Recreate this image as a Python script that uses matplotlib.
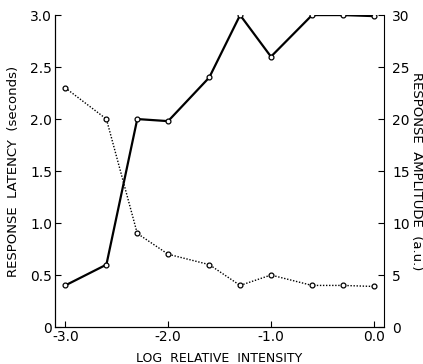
import matplotlib.pyplot as plt
import numpy as np

# log relative intensity
intensity = [-3.0, -2.6, -2.3, -2.0, -1.6, -1.3, -1.0, -0.6, -0.3, 0.0]
# response latency in seconds (dotted, left axis)
latency = [2.3, 2.0, 0.9, 0.7, 0.6, 0.4, 0.5, 0.4, 0.4, 0.39]
# response amplitude in a.u. (solid, right axis)
amplitude = [4, 6, 20, 19.8, 24, 30, 26, 30, 30, 29.9]

xticks = [-3.0, -2.0, -1.0, 0.0]
xticklabels = ['-3.0', '-2.0', '-1.0', '0.0']
lticks = [0, 0.5, 1.0, 1.5, 2.0, 2.5, 3.0]
lticklabels = ['0', '0.5', '1.0', '1.5', '2.0', '2.5', '3.0']
rticks = [0, 5, 10, 15, 20, 25, 30]

plt.rcParams['font.family'] = 'DejaVu Sans'
fig = plt.figure(figsize=(4.23, 3.64), dpi=100)
a = fig.add_axes([0.130, 0.1016, 0.778, 0.857])
b = a.twinx()

a.plot(intensity, latency, color='black', linestyle=(0, (1, 1.2)), linewidth=1.0,
       marker='o', markersize=3.5, markerfacecolor='white', markeredgewidth=0.9)
b.plot(intensity, amplitude, color='black', linestyle='-', linewidth=1.6,
       marker='o', markersize=3.5, markerfacecolor='white', markeredgewidth=0.9)

a.set_xlim(-3.1, 0.1)
a.set_ylim(0, 3.0)
b.set_ylim(0, 30)

for ax in (a, b):
    ax.spines['top'].set_visible(False)
a.spines['right'].set_visible(False)

a.set_xticks(xticks)
a.set_xticklabels(xticklabels)
a.set_yticks(lticks)
a.set_yticklabels(lticklabels)
b.set_yticks(rticks)
a.tick_params(direction='in', length=4, width=0.8, labelsize=10, pad=2)
b.tick_params(direction='in', length=4, width=0.8, labelsize=10, pad=6)

a.set_xlabel('LOG  RELATIVE  INTENSITY', fontsize=9, labelpad=6)
a.set_ylabel('RESPONSE  LATENCY  (seconds)', fontsize=9.5, labelpad=7)
b.set_ylabel('RESPONSE  AMPLITUDE  (a.u.)', fontsize=9.5, rotation=270, labelpad=9)

fig.savefig('out.png', dpi=100)
